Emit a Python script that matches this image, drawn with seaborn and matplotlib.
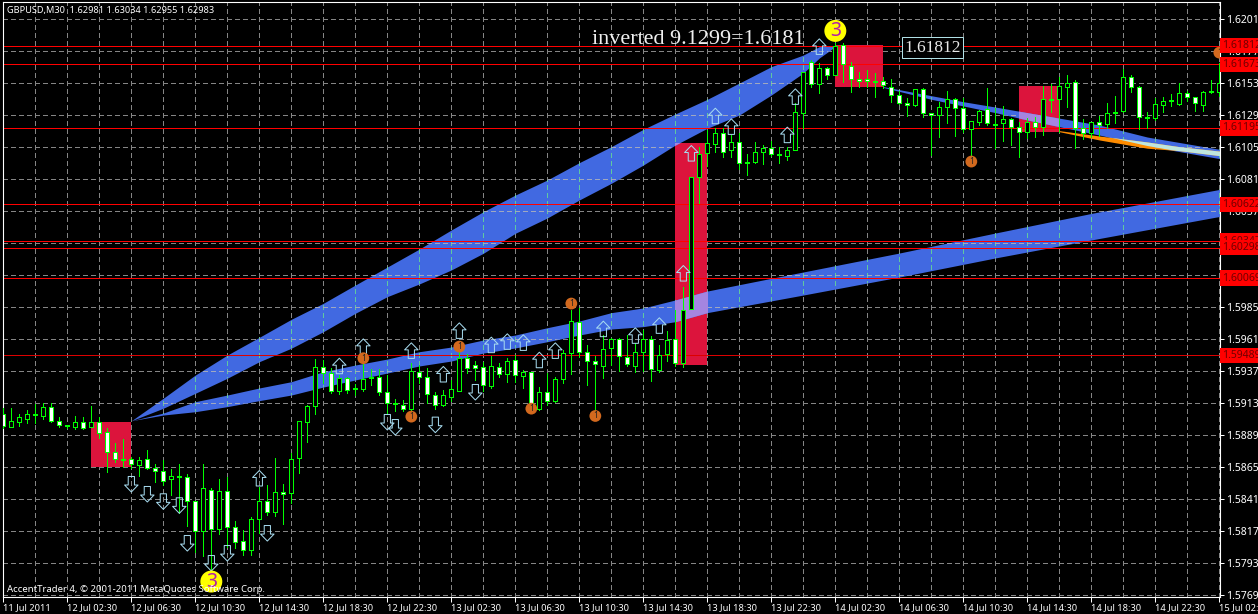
import numpy as np
import seaborn as sns
import matplotlib.pyplot as plt
from matplotlib.path import Path
from matplotlib.patches import Rectangle

# candles, 153 M30 bars
high = [1.59093,1.59093,1.59050,1.59080,1.59125,1.59135,1.59135,1.59025,1.58968,1.59035,
        1.59030,1.59110,1.59030,1.58943,1.58830,1.58860,1.58730,1.58730,1.58780,1.58675,
        1.58705,1.58638,1.58675,1.58600,1.58398,1.58675,1.58493,1.58563,1.58580,1.58248,
        1.58180,1.58280,1.58505,1.58518,1.58718,1.58523,1.58760,1.59000,1.59118,1.59463,
        1.59455,1.59393,1.59343,1.59330,1.59275,1.59505,1.59388,1.59388,1.59343,1.59160,
        1.59155,1.59435,1.59418,1.59393,1.59218,1.59230,1.59305,1.59580,1.59498,1.59450,
        1.59443,1.59485,1.59430,1.59468,1.59493,1.59380,1.59368,1.59255,1.59355,1.59325,
        1.59530,1.59830,1.59843,1.59568,1.59488,1.59643,1.59618,1.59618,1.59643,1.59580,
        1.59680,1.59635,1.59568,1.59673,1.59830,1.60005,1.60825,1.61055,1.61180,1.61193,
        1.61193,1.61143,1.61155,1.61000,1.61093,1.61068,1.61100,1.61055,1.61050,1.61380,
        1.61618,1.61705,1.61685,1.61655,1.61835,1.61835,1.61693,1.61618,1.61630,1.61610,
        1.61580,1.61560,1.61475,1.61418,1.61485,1.61493,1.61305,1.61393,1.61473,1.61418,
        1.61418,1.61245,1.61330,1.61493,1.61343,1.61360,1.61268,1.61243,1.61268,1.61280,
        1.61510,1.61525,1.61575,1.61593,1.61555,1.61260,1.61243,1.61285,1.61380,1.61435,
        1.61635,1.61593,1.61510,1.61315,1.61418,1.61425,1.61450,1.61530,1.61473,1.61430,
        1.61473,1.61555,1.61680]
low = [1.58943,1.58950,1.58960,1.58980,1.58980,1.59010,1.58993,1.58955,1.58943,1.58935,
       1.58935,1.58950,1.58868,1.58618,1.58693,1.58650,1.58643,1.58585,1.58640,1.58543,
       1.58518,1.58443,1.58305,1.58210,1.58018,1.57985,1.57880,1.58150,1.58055,1.58043,
       1.57993,1.57993,1.58155,1.58293,1.58285,1.58225,1.58385,1.58605,1.58843,1.59050,
       1.59285,1.59205,1.59200,1.59205,1.59193,1.59225,1.59268,1.59193,1.59050,1.59075,
       1.59075,1.59060,1.59285,1.59130,1.59085,1.59110,1.59148,1.59225,1.59355,1.59305,
       1.59225,1.59243,1.59325,1.59288,1.59293,1.59248,1.59105,1.59080,1.59118,1.59143,
       1.59280,1.59350,1.59480,1.59268,1.59030,1.59318,1.59418,1.59375,1.59410,1.59368,
       1.59375,1.59300,1.59368,1.59450,1.59413,1.59400,1.59835,1.60630,1.60910,1.61018,
       1.60980,1.60980,1.60888,1.60843,1.60930,1.60925,1.60985,1.60935,1.60955,1.61028,
       1.61193,1.61505,1.61455,1.61560,1.61590,1.61543,1.61468,1.61505,1.61505,1.61430,
       1.61493,1.61393,1.61375,1.61285,1.61360,1.61280,1.60993,1.61130,1.61235,1.61138,
       1.61168,1.60930,1.61218,1.61218,1.61043,1.61100,1.61068,1.60980,1.61123,1.61130,
       1.61143,1.61318,1.61168,1.61355,1.61048,1.61110,1.61125,1.61135,1.61193,1.61235,
       1.61318,1.61468,1.61185,1.61193,1.61255,1.61315,1.61360,1.61370,1.61400,1.61323,
       1.61325,1.61460,1.61435]
body_top = [1.59050,1.59000,1.59025,1.59048,1.59050,1.59105,1.59105,1.59000,1.58965,1.58988,
            1.58988,1.58988,1.58988,1.58913,1.58763,1.58713,1.58710,1.58703,1.58710,1.58648,
            1.58620,1.58583,1.58583,1.58575,1.58398,1.58493,1.58478,1.58470,1.58470,1.58200,
            1.58095,1.58260,1.58395,1.58395,1.58463,1.58463,1.58715,1.58995,1.59108,1.59400,
            1.59400,1.59355,1.59318,1.59318,1.59245,1.59310,1.59325,1.59330,1.59213,1.59135,
            1.59120,1.59370,1.59368,1.59330,1.59195,1.59190,1.59235,1.59470,1.59473,1.59415,
            1.59405,1.59408,1.59405,1.59450,1.59453,1.59363,1.59363,1.59213,1.59213,1.59310,
            1.59505,1.59745,1.59743,1.59513,1.59445,1.59535,1.59610,1.59610,1.59480,1.59518,
            1.59610,1.59610,1.59495,1.59605,1.59610,1.59830,1.60825,1.60998,1.61080,1.61160,
            1.61155,1.61088,1.61088,1.60943,1.61013,1.61043,1.61043,1.61003,1.61028,1.61313,
            1.61613,1.61693,1.61643,1.61643,1.61810,1.61818,1.61660,1.61560,1.61560,1.61548,
            1.61545,1.61505,1.61440,1.61380,1.61485,1.61485,1.61305,1.61350,1.61410,1.61410,
            1.61343,1.61245,1.61325,1.61335,1.61225,1.61260,1.61260,1.61205,1.61238,1.61238,
            1.61415,1.61410,1.61508,1.61530,1.61540,1.61193,1.61238,1.61238,1.61305,1.61313,
            1.61575,1.61575,1.61500,1.61278,1.61373,1.61395,1.61403,1.61455,1.61455,1.61425,
            1.61463,1.61470,1.61530]
body_bot = [1.58960,1.58955,1.58993,1.59015,1.59045,1.59038,1.59000,1.58965,1.58958,1.58955,
            1.58948,1.58955,1.58910,1.58763,1.58710,1.58708,1.58675,1.58670,1.58643,1.58620,
            1.58550,1.58560,1.58575,1.58398,1.58175,1.58175,1.58185,1.58190,1.58200,1.58088,
            1.58028,1.58028,1.58260,1.58313,1.58313,1.58453,1.58455,1.58718,1.58988,1.59108,
            1.59355,1.59220,1.59225,1.59233,1.59235,1.59240,1.59318,1.59213,1.59135,1.59123,
            1.59085,1.59085,1.59330,1.59198,1.59115,1.59115,1.59180,1.59225,1.59393,1.59398,
            1.59265,1.59263,1.59348,1.59348,1.59340,1.59338,1.59130,1.59085,1.59150,1.59145,
            1.59310,1.59505,1.59513,1.59445,1.59423,1.59413,1.59543,1.59485,1.59423,1.59413,
            1.59518,1.59385,1.59380,1.59498,1.59430,1.59430,1.59835,1.60825,1.61005,1.61073,
            1.61018,1.61028,1.60930,1.60930,1.60943,1.61013,1.61003,1.60990,1.60983,1.61028,
            1.61305,1.61525,1.61523,1.61593,1.61590,1.61673,1.61560,1.61550,1.61545,1.61540,
            1.61515,1.61440,1.61380,1.61365,1.61365,1.61305,1.61293,1.61293,1.61350,1.61343,
            1.61188,1.61185,1.61243,1.61230,1.61220,1.61230,1.61205,1.61163,1.61163,1.61200,
            1.61205,1.61405,1.61410,1.61505,1.61193,1.61155,1.61155,1.61220,1.61228,1.61308,
            1.61320,1.61505,1.61275,1.61273,1.61273,1.61370,1.61395,1.61375,1.61430,1.61380,
            1.61370,1.61463,1.61468]
up_bars = [1,2,3,4,5,9,11,17,21,25,27,31,32,34,36,37,38,39,42,45,46,51,55,56,57,61,63,65,67,69,
           70,71,75,76,79,80,82,83,85,86,87,88,89,91,94,95,98,99,100,102,104,114,117,118,121,122,
           125,128,130,132,133,136,138,140,144,145,147,150,151,152]

# axis labels
price_ticks = [1.62010,1.61770,1.61530,1.61290,1.61050,1.60810,1.60570,1.60330,1.60090,1.59850,
               1.59610,1.59370,1.59130,1.58890,1.58650,1.58410,1.58170,1.57930,1.57690]
time_labels = ["11 Jul 2011","12 Jul 02:30","12 Jul 06:30","12 Jul 10:30","12 Jul 14:30",
               "12 Jul 18:30","12 Jul 22:30","13 Jul 02:30","13 Jul 06:30","13 Jul 10:30",
               "13 Jul 14:30","13 Jul 18:30","13 Jul 22:30","14 Jul 02:30","14 Jul 06:30",
               "14 Jul 10:30","14 Jul 14:30","14 Jul 18:30","14 Jul 22:30","15 Jul 02:30"]
red_levels = [1.60347,1.59489,1.60069,1.60622,1.61195,1.61812,1.61673,1.60298]

# red boxes: bar from, bar to, price low, price high
box_from = [11,84,104,127]
box_to = [16,88,110,132]
box_low = [1.58650,1.59417,1.61504,1.61167]
box_high = [1.58990,1.61082,1.61817,1.61510]

# channels
band_a_x = [16,20,24,28,32,36,40,44,48,52,56,60,64,68,72,76,80,84,88,92,96,100,102,104]
band_a_top = [1.58999,1.59168,1.59342,1.59492,1.59625,1.59760,1.59880,1.60017,1.60152,1.60287,1.60430,1.60567,
              1.60692,1.60805,1.60935,1.61055,1.61185,1.61300,1.61410,1.61532,1.61655,1.61742,1.61805,1.61810]
band_a_bot = [1.58999,1.59093,1.59205,1.59318,1.59442,1.59543,1.59667,1.59805,1.59930,1.60025,1.60130,1.60255,
              1.60405,1.60520,1.60655,1.60780,1.60917,1.61067,1.61193,1.61292,1.61442,1.61607,1.61720,1.61805]
band_b_x = [16,20,24,28,32,36,40,44,48,52,56,60,64,68,72,76,80,84,88,100,112,124,136,153]
band_b_top = [1.58999,1.59057,1.59142,1.59192,1.59245,1.59292,1.59367,1.59417,1.59462,1.59517,1.59552,1.59605,
              1.59642,1.59697,1.59747,1.59810,1.59845,1.59905,1.59972,1.60115,1.60257,1.60407,1.60554,1.60745]
band_b_bot = [1.58999,1.59042,1.59067,1.59105,1.59150,1.59192,1.59252,1.59305,1.59357,1.59410,1.59447,1.59507,
              1.59545,1.59592,1.59642,1.59687,1.59705,1.59742,1.59810,1.59942,1.60077,1.60220,1.60355,1.60542]
band_c_x = [110,116,120,124,128,137,143,153]
band_c_top = [1.61505,1.61437,1.61392,1.61352,1.61310,1.61217,1.61127,1.61025]
band_c_bot = [1.61499,1.61410,1.61360,1.61310,1.61255,1.61142,1.61060,1.60955]
band_d_x = [132,137,143,147,153]
band_d_top = [1.61175,1.61135,1.61090,1.61055,1.61015]
band_d_bot = [1.61167,1.61105,1.61043,1.61025,1.60980]

# signals
arrow_up_x = [32,42,45,51,55,57,61,63,65,67,69,75,79,82,85,86,89,91,98,99,102]
arrow_up_y = [1.58568,1.59410,1.59555,1.59525,1.59348,1.59675,1.59568,1.59593,1.59585,1.59455,1.59525,1.59688,
              1.59638,1.59713,1.60105,1.61005,1.61285,1.61205,1.61143,1.61430,1.61805]
arrow_down_x = [16,18,20,22,23,26,28,33,48,49,54,59]
arrow_down_y = [1.58523,1.58448,1.58393,1.58363,1.58080,1.57930,1.58005,1.58155,1.58988,1.58950,1.58968,1.59213]
dot_x = [45,51,57,66,71,74,121,152]
dot_y = [1.59468,1.59030,1.59555,1.59090,1.59878,1.59035,1.60943,1.61760]
three_x = [26,104]
three_y = [1.57793,1.61923]

sns.set_theme(style="dark", rc={"axes.facecolor": "black", "figure.facecolor": "black",
                                "savefig.facecolor": "black", "text.color": "white",
                                "axes.edgecolor": "white", "xtick.color": "white", "ytick.color": "white"})
plt.rcParams["font.family"] = ["Noto Sans", "DejaVu Sans"]

PX = 0.72  # one pixel in points at dpi 100
fig = plt.figure(figsize=(12.58, 6.14), dpi=100)
ax = fig.add_axes([2.7/1258, 1 - 597/614, (1220 - 2.7)/1258, (597 - 2)/614])
ax.set_xlim((2.7 - 3.33)/8, (1220 - 3.33)/8)
ax.set_ylim(1.6201 - (597 - 19.3)*0.000075, 1.6201 - (2 - 19.3)*0.000075)

for s in ax.spines.values():
    s.set_color("white")
    s.set_linewidth(1.1*PX)

# grid
dash = (0, (5, 3))
ax.set_axisbelow(True)
ax.xaxis.remove_overlapping_locs = False
ax.set_xticks(np.arange(0, 153, 8))
ax.set_xticks(np.arange(4, 153, 4), minor=True)
ax.set_xticklabels([], minor=True)
ax.set_yticks(price_ticks)
ax.set_xticklabels(time_labels, ha="left", fontsize=6.7)
ax.set_yticklabels(["%.5f" % p for p in price_ticks], fontsize=7.5)
ax.grid(False)
ax.grid(True, axis="y", which="major", color="#858585", lw=PX, ls=dash, antialiased=False)
ax.grid(True, axis="x", which="minor", color="#858585", lw=PX, ls=dash, antialiased=False)
ax.tick_params(axis="x", which="major", length=3.5, width=PX, pad=1, bottom=True)
ax.tick_params(axis="x", which="minor", length=0)
ax.tick_params(axis="y", length=3, width=PX, pad=1.5, left=False, labelleft=False, right=True, labelright=True)

# red boxes
boxes = []
for a, b, lo, hi in zip(box_from, box_to, box_low, box_high):
    r = Rectangle((a, lo), b - a, hi - lo, facecolor="#dc143c", edgecolor="none", zorder=1, antialiased=False)
    ax.add_patch(r)
    boxes.append(r)

# channels, with lighter colour where they cross something
def band(x, top, bot, color, z):
    return ax.fill_between(x, bot, top, color=color, lw=0, zorder=z, antialiased=False)

def over(poly, levels_x, levels_y):
    clip = poly.get_paths()[0]
    v = ax.vlines(levels_x, ax.get_ylim()[0], ax.get_ylim()[1], color="#5fc8a0", lw=PX, ls=dash, zorder=2.1, antialiased=False)
    h = ax.hlines(levels_y, ax.get_xlim()[0], ax.get_xlim()[1], color="#a0a8c0", lw=PX, ls=dash, zorder=2.1, antialiased=False)
    v.set_clip_path(clip, ax.transData)
    h.set_clip_path(clip, ax.transData)

blue = "#4169e1"
a = band(band_a_x, band_a_top, band_a_bot, blue, 2)
b = band(band_b_x, band_b_top, band_b_bot, blue, 2)
c = band(band_c_x, band_c_top, band_c_bot, blue, 2)
d = band(band_d_x, band_d_top, band_d_bot, "#ff8c00", 2)
for poly in (a, b, c):
    over(poly, np.arange(4, 153, 4), price_ticks)

lilac = band(band_b_x, band_b_top, band_b_bot, "#a585e0", 2.2)
lilac.set_clip_path(boxes[1])
lilac2 = band(band_c_x, band_c_top, band_c_bot, "#a585e0", 2.2)
lilac2.set_clip_path(boxes[3])
lilac3 = band(band_a_x, band_a_top, band_a_bot, "#a585e0", 2.2)
lilac3.set_clip_path(boxes[1])
mint = band(band_d_x, band_d_top, band_d_bot, "#bfe6dd", 2.3)
mint.set_clip_path(c.get_paths()[0], ax.transData)

# levels
for p in red_levels:
    ax.axhline(p, color="#dd0000" if p == 1.59489 else "#ff0000", lw=PX, zorder=2.5, antialiased=False)

# candles
xs = np.arange(len(high))
up = np.isin(xs, up_bars)
ax.vlines(xs, low, high, color="#00ff00", lw=PX, zorder=3, antialiased=False)
heights = np.array(body_top) - np.array(body_bot)
ax.bar(xs, heights, width=0.5, bottom=body_bot, color=np.where(up, "black", "white"),
       edgecolor="#00ff00", linewidth=PX, zorder=4, antialiased=False)

# signals
arrow = [(0,1),(0.87,0.1),(0.4,0.1),(0.4,-1),(-0.4,-1),(-0.4,0.1),(-0.87,0.1),(0,1)]
up_arrow = Path(arrow, closed=True)
down_arrow = Path([(x, -y) for x, y in arrow], closed=True)
sns.scatterplot(x=arrow_up_x, y=arrow_up_y, marker=up_arrow, s=125, facecolor="none",
                edgecolor="#a8dcf0", linewidth=PX, zorder=5, ax=ax, legend=False)
sns.scatterplot(x=arrow_down_x, y=arrow_down_y, marker=down_arrow, s=125, facecolor="none",
                edgecolor="#a8dcf0", linewidth=PX, zorder=5, ax=ax, legend=False)
sns.scatterplot(x=dot_x, y=dot_y, marker="o", s=72, color="#d2691e", edgecolor="none", zorder=6, ax=ax, legend=False)
sns.scatterplot(x=three_x, y=three_y, marker="o", s=250, color="#ffff00", edgecolor="none", zorder=6, ax=ax, legend=False)
for x, y in zip(dot_x, dot_y):
    ax.text(x, y, "1", color="#202020", fontsize=6, ha="center", va="center", zorder=7, clip_on=True)
for x, y in zip(three_x, three_y):
    ax.text(x, y, "3", color="#b01fa8", fontsize=14, ha="center", va="center", zorder=7, clip_on=False)

# texts
def at(px, py, txt, **kw):
    fig.text(px/1258, 1 - py/614, txt, **kw)

at(7, 10, "GBPUSD,M30  1.62981 1.63034 1.62955 1.62983", color="white", fontsize=6.6, va="center", zorder=9)
at(7, 589, "AccentTrader 4, \u00a9 2001-2011 MetaQuotes Software Corp.", color="white", fontsize=6.9, va="center", zorder=9)
at(592, 40, "inverted 9.1299=1.6181", color="#f0f0f0", fontsize=15.9, family="Liberation Serif", va="center", zorder=9)
ax.text(932.5/8 - 0.42, 1.6201 - (47.5 - 19.3)*0.000075, "1.61812", color="#e8e8e8", fontsize=12.5, family="Liberation Serif",
        ha="center", va="center", zorder=9,
        bbox=dict(facecolor="black", edgecolor="#b0e0e6", linewidth=PX, pad=1.8))

# price tags on the right
for p in red_levels:
    ax.text(1.0016, p, "%.5f" % p, transform=ax.get_yaxis_transform(), color="#700000", fontsize=7.5, ha="left", va="center",
            clip_on=False, zorder=10, bbox=dict(facecolor="#ff0000", edgecolor="none", pad=1.6))

fig.savefig("out.png", dpi=100, facecolor="black")
